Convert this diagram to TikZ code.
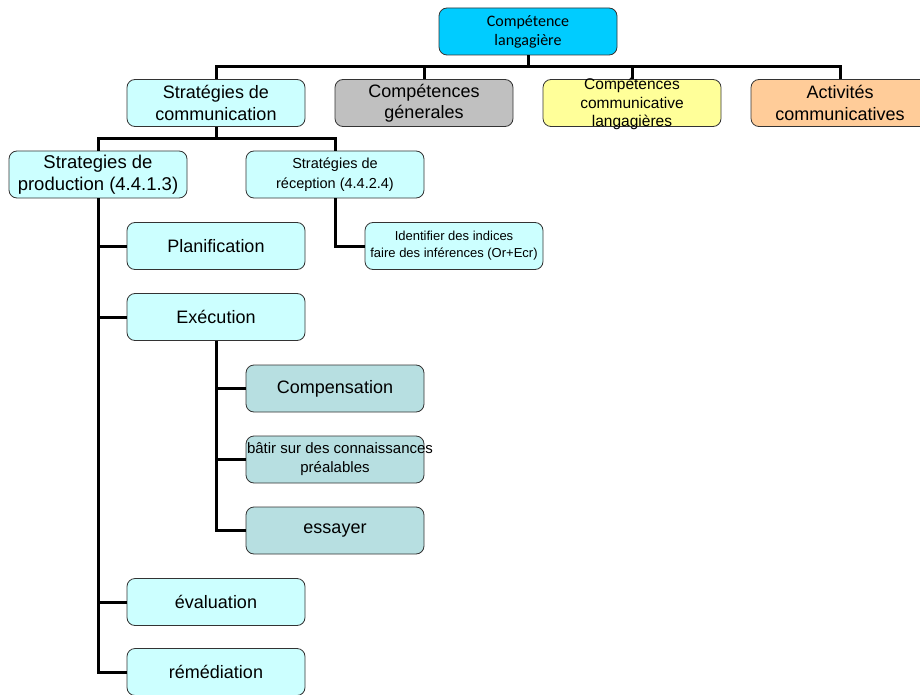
\documentclass[tikz,border=0pt]{standalone}
\usepackage{fontspec}
\setmainfont{Liberation Sans}
\newfontfamily\calfont{Carlito}
\definecolor{topc}{HTML}{00CCFF}
\definecolor{lcyan}{HTML}{CCFFFF}
\definecolor{tealc}{HTML}{B7DFE1}
\definecolor{grayc}{HTML}{C0C0C0}
\definecolor{yelc}{HTML}{FFFF99}
\definecolor{orc}{HTML}{FFCC99}
\definecolor{edge}{HTML}{333333}
\tikzset{
  box/.style={draw=edge, line width=0.8pt, rounded corners=8pt, minimum width=178pt, minimum height=47pt, inner sep=0pt, align=center, fill=lcyan},
  link/.style={line width=3pt, black},
  fs18/.style={font=\fontsize{18}{21.5}\selectfont},
}
\begin{document}
\begin{tikzpicture}[x=1pt,y=-1pt]
\useasboundingbox (0,0) rectangle (920,695);
\clip (0,0) rectangle (920,695);
\node[box, fill=topc, font=\calfont\fontsize{16}{19}\selectfont] (top) at (528,31.5) {Compétence\\langagière};
\node[box, fs18] (scom) at (216,103) {Stratégies de\\communication};
\node[box, fill=grayc, fs18] (gen) at (424,103) {Compétences\\génerales};
\node[box, fill=yelc, font=\fontsize{15.5}{18.5}\selectfont] (comm) at (632,103) {\raisebox{-0.3em}[0pt][0pt]{\parbox[c]{178pt}{\centering Compétences\\communicative\\langagières}}};
\node[box, fill=orc, fs18] (act) at (840,103) {Activités\\communicatives};
\node[box, font=\fontsize{18.5}{22}\selectfont] (prod) at (98,174.5) {Strategies de\\production (4.4.1.3)};
\node[box, font=\fontsize{14.5}{20}\selectfont] (rec) at (335,174.5) {Stratégies de\\réception (4.4.2.4)};
\node[box, font=\fontsize{13}{17}\selectfont] (ident) at (454,246) {Identifier des indices\\faire des inférences (Or+Ecr)};
\node[box, fs18] (plan) at (216,246) {Planification};
\node[box, fs18] (exec) at (216,317) {Exécution};
\node[box, fill=tealc, fs18] (compens) at (335,388.5) {Compensation};
\node[box, fill=tealc, font=\fontsize{15}{19}\selectfont] (batir) at (335,459.5) {\makebox[178pt][c]{\hspace{10pt}bâtir sur des connaissances}\\préalables};
\node[box, fill=tealc, fs18] (essay) at (335,530.5) {essayer};
\node[box, fs18] (eval) at (216,602) {évaluation};
\node[box, fs18] (remed) at (216,672) {rémédiation};
% connectors
\coordinate (bus1) at (528,67);
\coordinate (bus2) at (216,139);
\draw[link] (top.south) -- (bus1);
\draw[link] (scom.north) |- (bus1) -| (act.north);
\draw[link] (gen.north) -- (gen.north |- bus1);
\draw[link] (comm.north) -- (comm.north |- bus1);
\draw[link] (scom.south) -- (bus2);
\draw[link] (prod.north) |- (bus2) -| (rec.north);
\draw[link] (rec.south) |- (ident.west);
\draw[link] (prod.south) |- (plan.west);
\draw[link] (prod.south) |- (exec.west);
\draw[link] (prod.south) |- (eval.west);
\draw[link] (prod.south) |- (remed.west);
\draw[link] (exec.south) |- (compens.west);
\draw[link] (exec.south) |- (batir.west);
\draw[link] (exec.south) |- (essay.west);
\end{tikzpicture}
\end{document}
